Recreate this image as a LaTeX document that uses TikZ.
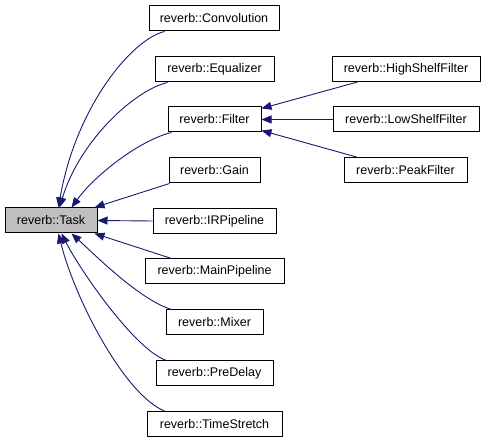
\documentclass[tikz,border=0pt]{standalone}
\usepackage{fontspec}
\setmainfont{Liberation Sans}
\usetikzlibrary{arrows.meta}
\definecolor{edgeblue}{HTML}{191970}
\definecolor{taskgray}{HTML}{BFBFBF}
\begin{document}
\begin{tikzpicture}[x=1pt,y=-1pt,>={Triangle[length=10pt,width=8pt]},
  box/.style={draw,line width=1pt,minimum height=25pt,inner xsep=0pt,
    font=\fontsize{12.5}{15}\selectfont},
  edge/.style={draw=edgeblue,line width=0.9pt,->}]
\useasboundingbox (0,0) rectangle (485,443);
\node[box,fill=taskgray,minimum width=92pt] (task) at (51,220.5) {reverb::Task};
\node[box,minimum width=130pt] (conv) at (214,18.5) {reverb::Convolution};
\node[box,minimum width=119pt] (eq) at (214.5,69.5) {reverb::Equalizer};
\node[box,minimum width=93pt] (filter) at (214.5,119.5) {reverb::Filter};
\node[box,minimum width=91pt] (gain) at (214.5,170.5) {reverb::Gain};
\node[box,minimum width=123pt] (ir) at (214.5,221) {reverb::IRPipeline};
\node[box,minimum width=139pt] (main) at (214.5,271.5) {reverb::MainPipeline};
\node[box,minimum width=97pt] (mixer) at (214.5,322.5) {reverb::Mixer};
\node[box,minimum width=117pt] (pre) at (214.5,373.5) {reverb::PreDelay};
\node[box,minimum width=135pt] (time) at (214.5,424) {reverb::TimeStretch};
\node[box,minimum width=148pt] (high) at (406,69) {reverb::HighShelfFilter};
\node[box,minimum width=146pt] (low) at (406,119.5) {reverb::LowShelfFilter};
\node[box,minimum width=123pt] (peak) at (405.5,170) {reverb::PeakFilter};
% children of Task
\draw[edge] ([xshift=16pt]conv.south west) .. controls (130,40) and (75,110) .. ([xshift=54pt]task.north west);
\draw[edge] ([xshift=13pt]eq.south west) .. controls (135,90) and (80,140) .. ([xshift=55pt]task.north west);
\draw[edge] ([xshift=4pt]filter.south west) .. controls (140,140) and (95,175) .. ([xshift=67pt]task.north west);
\draw[edge] ([xshift=1pt]gain.south west) -- ([xshift=-3pt]task.north east);
\draw[edge] (ir.west) -- (task.east);
\draw[edge] ([xshift=27pt]main.north west) -- ([xshift=-3pt]task.south east);
\draw[edge] ([xshift=6pt]mixer.north west) .. controls (140,300) and (95,255) .. ([xshift=67pt]task.south west);
\draw[edge] ([xshift=11pt]pre.north west) .. controls (135,350) and (80,270) .. ([xshift=57pt]task.south west);
\draw[edge] ([xshift=18pt]time.north west) .. controls (125,395) and (75,300) .. ([xshift=54pt]task.south west);
% children of Filter
\draw[edge] ([xshift=26pt]high.south west) -- ([yshift=-2pt]filter.north east);
\draw[edge] (low.west) -- (filter.east);
\draw[edge] ([xshift=13pt]peak.north west) -- ([yshift=2pt]filter.south east);
\end{tikzpicture}
\end{document}
